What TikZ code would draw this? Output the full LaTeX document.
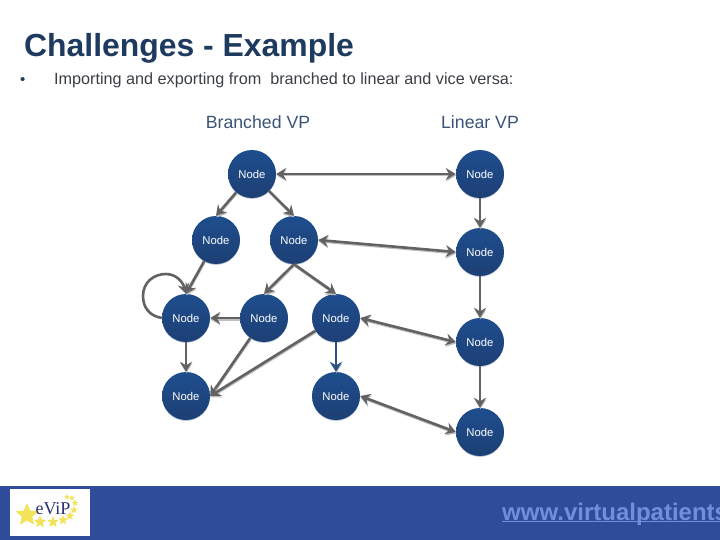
\documentclass[tikz,border=0pt]{standalone}
\usepackage{fontspec}
\setmainfont{Liberation Sans}
\newfontfamily\logofont{Liberation Serif}
\usepackage{tikz}
\usetikzlibrary{arrows.meta,shapes.geometric,shadows}
\definecolor{NodeTop}{HTML}{1E4E8E}
\definecolor{NodeBottom}{HTML}{1D3F74}
\definecolor{NodeRim}{HTML}{A9BBD2}
\definecolor{EdgeGray}{HTML}{626262}
\definecolor{BandBlue}{HTML}{2E4C9A}
\definecolor{LinkBlue}{HTML}{6F8FDC}
\definecolor{TitleInk}{HTML}{1F3A5F}
\definecolor{BodyInk}{HTML}{3A3F45}
\definecolor{HeadInk}{HTML}{3A5478}
\definecolor{LogoInk}{HTML}{2B2F73}
\definecolor{StarGold}{HTML}{F2E35A}
\tikzset{
    vpnode/.style={circle, minimum size=48pt, inner sep=0pt, top color=NodeTop, bottom color=NodeBottom, text=white, font=\fontsize{11.3}{14}\selectfont, general shadow={shadow yshift=-0.8pt, fill=NodeRim}},
    vpedge/.style={line width=2.6pt, draw=EdgeGray, -{Stealth[length=10pt,width=12pt,inset=3.5pt]}, preaction={draw=black!25, line width=2pt, transform canvas={shift={(0.4pt,-1.5pt)}}}},
    vpboth/.style={vpedge, {Stealth[length=10pt,width=12pt,inset=3.5pt]}-{Stealth[length=10pt,width=12pt,inset=3.5pt]}},
    logostar/.style={star, star points=5, star point ratio=2.2, fill=StarGold, inner sep=0pt, minimum size=#1}
}
\begin{document}
\begin{tikzpicture}[x=1pt,y=-1pt]
    \useasboundingbox (0,0) rectangle (720,540);
    \fill[white] (0,0) rectangle (720,540);
    % heading
    \node[anchor=base west, inner sep=0pt, font=\bfseries\fontsize{31.9}{34}\selectfont, text=TitleInk] (title) at (24,56.5) {Challenges - Example};
    \node[anchor=base west, inner sep=0pt, font=\fontsize{15}{18}\selectfont, text=TitleInk] (bullet) at (20,85) {•};
    \node[anchor=base west, inner sep=0pt, font=\fontsize{16.2}{18}\selectfont, text=BodyInk] (intro) at (54,85) {Importing and exporting from\ \ branched to linear and vice versa:};
    \node[font=\fontsize{17.7}{20}\selectfont, text=HeadInk] (branched) at (258,122) {Branched VP};
    \node[font=\fontsize{17.7}{20}\selectfont, text=HeadInk] (linear) at (480,122) {Linear VP};
    % branched nodes
    \node[vpnode] (b1) at (252,174) {Node};
    \node[vpnode] (b2) at (216,240) {Node};
    \node[vpnode] (b3) at (294,240) {Node};
    \node[vpnode] (b4) at (186,318) {Node};
    \node[vpnode] (b5) at (264,318) {Node};
    \node[vpnode] (b6) at (336,318) {Node};
    \node[vpnode] (b7) at (186,396) {Node};
    \node[vpnode] (b8) at (336,396) {Node};
    % linear nodes
    \node[vpnode] (l1) at (480,174) {Node};
    \node[vpnode] (l2) at (480,252) {Node};
    \node[vpnode] (l3) at (480,342) {Node};
    \node[vpnode] (l4) at (480,432) {Node};
    % branched edges
    \draw[vpedge] (b1) -- (b2.north);
    \draw[vpedge] (b1) -- (b3.north);
    \draw[vpedge] (b2) -- (b4.north);
    \draw[vpedge] (b3.south) -- (b5.north);
    \draw[vpedge] (b3.south) -- (b6.north);
    \draw[vpedge] (b5.west) -- (b4.east);
    \draw[vpedge] (b4.south) -- (b7.north);
    \draw[vpedge] (b5) -- (b7.east);
    \draw[vpedge] (b6) -- (b7.east);
    \draw[vpedge, draw=NodeTop!80!EdgeGray] (b6.south) -- (b8.north);
    \draw[line width=2.6pt, draw=EdgeGray, -{Stealth[length=10pt,width=12pt,inset=3.5pt]}] (b4.west) .. controls (150,316) and (143,308) .. (143,296) .. controls (143,282) and (154,274) .. (166,274) .. controls (176,274) and (183,282) .. (b4.north);
    % linear edges
    \draw[vpedge] (l1.south) -- (l2.north);
    \draw[vpedge] (l2.south) -- (l3.north);
    \draw[vpedge] (l3.south) -- (l4.north);
    % links between the two
    \draw[vpboth] (b1.east) -- (l1.west);
    \draw[vpboth] (b3.east) -- (l2.west);
    \draw[vpboth] (b6.east) -- (l3.west);
    \draw[vpboth] (b8.east) -- (l4.west);
    % footer
    \fill[BandBlue] (0,486) rectangle (720,540);
    \node[fill=white, minimum width=80pt, minimum height=47pt, inner sep=0pt] (logo) at (50,512.5) {};
    \node[logostar=24pt] (s1) at (27,515) {};
    \node[logostar=13pt] (s2) at (40,522) {};
    \node[logostar=12pt] (s3) at (53,522) {};
    \node[logostar=10pt] (s4) at (63,520) {};
    \node[logostar=9pt] (s5) at (70,516) {};
    \node[logostar=8pt] (s6) at (74,510) {};
    \node[logostar=7pt] (s7) at (75,503) {};
    \node[logostar=6pt] (s8) at (72,498) {};
    \node[logostar=6pt] (s9) at (67,497) {};
    \node[inner sep=0pt, text=LogoInk, font=\logofont\fontsize{18}{20}\selectfont] (logotext) at (53,509) {eViP};
    \node[anchor=base west, inner sep=0pt, font=\bfseries\fontsize{24}{26}\selectfont, text=LinkBlue] (url) at (502,520) {\underline{\smash{www.virtualpatients}}};
\end{tikzpicture}
\end{document}
